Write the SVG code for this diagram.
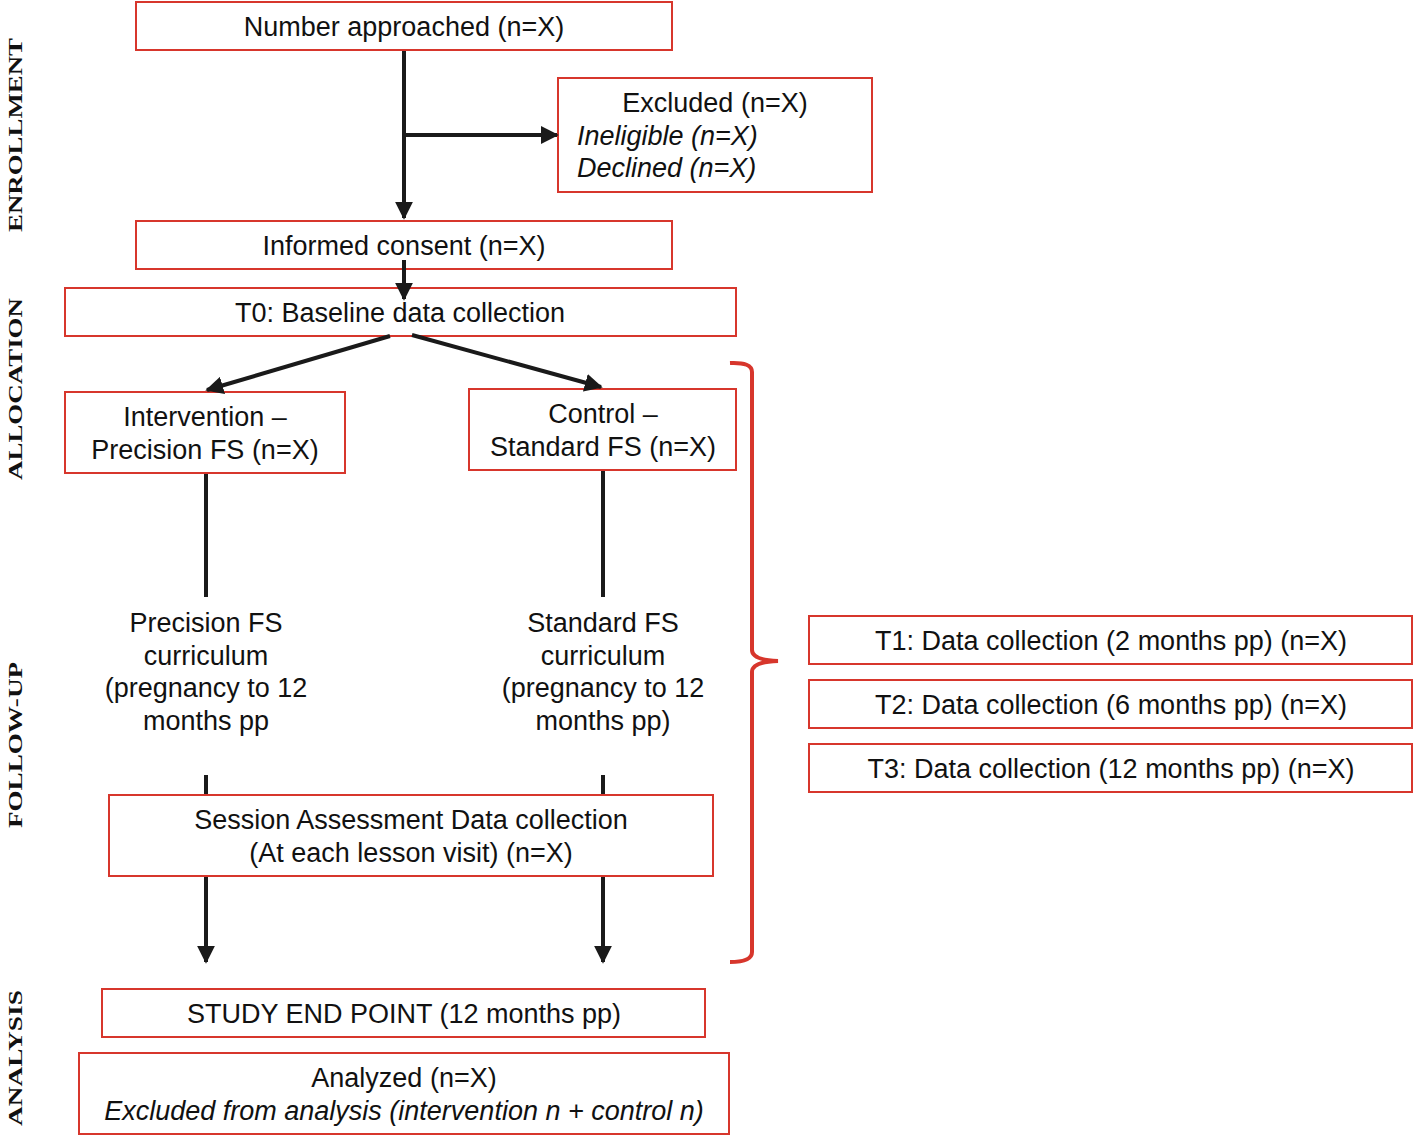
<svg xmlns="http://www.w3.org/2000/svg" width="1414" height="1136" viewBox="0 0 1414 1136">
<style>
.box{fill:#fff;stroke:#d7362c;stroke-width:2}
.t{font-family:"Liberation Sans",Arial,sans-serif;font-size:27px;fill:#111;text-anchor:middle}
.i{font-style:italic;text-anchor:start}
.side{font-family:"Liberation Serif","Times New Roman",serif;font-weight:bold;font-size:19px;fill:#111;text-anchor:middle}
.c{stroke:#1a1a1a;stroke-width:4;fill:none}
</style>
<defs>
<marker id="ah" viewBox="0 0 10 10" refX="9" refY="5" markerWidth="4.5" markerHeight="4.5" markerUnits="strokeWidth" orient="auto">
<path d="M0,0 L10,5 L0,10 z" fill="#1a1a1a"/>
</marker>
</defs>
<rect width="1414" height="1136" fill="#fff"/>
<g id="labels">
<text class="side" transform="translate(22,135) rotate(-90)" textLength="194" lengthAdjust="spacingAndGlyphs">ENROLLMENT</text>
<text class="side" transform="translate(22,389) rotate(-90)" textLength="182" lengthAdjust="spacingAndGlyphs">ALLOCATION</text>
<text class="side" transform="translate(22,745) rotate(-90)" textLength="166" lengthAdjust="spacingAndGlyphs">FOLLOW-UP</text>
<text class="side" transform="translate(22,1058) rotate(-90)" textLength="136" lengthAdjust="spacingAndGlyphs">ANALYSIS</text>
</g>
<g id="n1"><rect class="box" x="136" y="2" width="536" height="48"/><text class="t" x="404" y="36">Number approached (n=X)</text></g>
<g id="n2"><rect class="box" x="558" y="78" width="314" height="114"/>
<text class="t" x="715" y="112">Excluded (n=X)</text>
<text class="t i" x="577" y="145">Ineligible (n=X)</text>
<text class="t i" x="577" y="177">Declined (n=X)</text></g>
<g id="n3"><rect class="box" x="136" y="221" width="536" height="48"/><text class="t" x="404" y="255">Informed consent (n=X)</text></g>
<g id="n4"><rect class="box" x="65" y="288" width="671" height="48"/><text class="t" x="400" y="322">T0: Baseline data collection</text></g>
<g id="n5"><rect class="box" x="65" y="392" width="280" height="81"/>
<text class="t" x="205" y="426">Intervention –</text><text class="t" x="205" y="459">Precision FS (n=X)</text></g>
<g id="n6"><rect class="box" x="469" y="389" width="267" height="81"/>
<text class="t" x="603" y="423">Control –</text><text class="t" x="603" y="456">Standard FS (n=X)</text></g>
<g id="n7"><text class="t" x="206" y="632">Precision FS</text><text class="t" x="206" y="665">curriculum</text><text class="t" x="206" y="697">(pregnancy to 12</text><text class="t" x="206" y="730">months pp</text></g>
<g id="n8"><text class="t" x="603" y="632">Standard FS</text><text class="t" x="603" y="665">curriculum</text><text class="t" x="603" y="697">(pregnancy to 12</text><text class="t" x="603" y="730">months pp)</text></g>
<g id="n9"><rect class="box" x="109" y="795" width="604" height="81"/>
<text class="t" x="411" y="829">Session Assessment Data collection</text><text class="t" x="411" y="862">(At each lesson visit) (n=X)</text></g>
<g id="n10"><rect class="box" x="102" y="989" width="603" height="48"/><text class="t" x="404" y="1023">STUDY END POINT (12 months pp)</text></g>
<g id="n11"><rect class="box" x="79" y="1053" width="650" height="81"/>
<text class="t" x="404" y="1087">Analyzed (n=X)</text><text class="t" x="404" y="1120" font-style="italic">Excluded from analysis (intervention n + control n)</text></g>
<g id="n12"><rect class="box" x="809" y="616" width="603" height="48"/><text class="t" x="1111" y="650">T1: Data collection (2 months pp) (n=X)</text></g>
<g id="n13"><rect class="box" x="809" y="680" width="603" height="48"/><text class="t" x="1111" y="714">T2: Data collection (6 months pp) (n=X)</text></g>
<g id="n14"><rect class="box" x="809" y="744" width="603" height="48"/><text class="t" x="1111" y="778">T3: Data collection (12 months pp) (n=X)</text></g>
<g id="connectors">
<line class="c" x1="404" y1="51" x2="404" y2="218" marker-end="url(#ah)"/>
<line class="c" x1="404" y1="135" x2="557" y2="135" marker-end="url(#ah)"/>
<line class="c" x1="404" y1="260" x2="404" y2="299" marker-end="url(#ah)"/>
<line class="c" x1="390" y1="336" x2="207" y2="390" marker-end="url(#ah)"/>
<line class="c" x1="412" y1="335" x2="601" y2="387" marker-end="url(#ah)"/>
<line class="c" x1="206" y1="474" x2="206" y2="597"/>
<line class="c" x1="603" y1="471" x2="603" y2="597"/>
<line class="c" x1="206" y1="775" x2="206" y2="794"/>
<line class="c" x1="603" y1="775" x2="603" y2="794"/>
<line class="c" x1="206" y1="877" x2="206" y2="962" marker-end="url(#ah)"/>
<line class="c" x1="603" y1="877" x2="603" y2="962" marker-end="url(#ah)"/>
<path d="M730,363 Q752,362 752,372 L752,650 Q752,660 778,661 Q752,662 752,672 L752,952 Q752,962 730,962" fill="none" stroke="#d7362c" stroke-width="4"/>
</g>
</svg>
